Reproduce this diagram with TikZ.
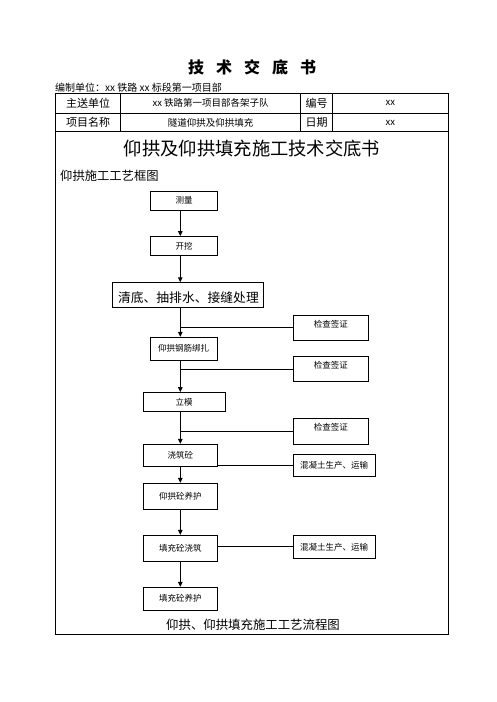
\documentclass[tikz,border=0pt]{standalone}
\usepackage{fontspec}
\setmainfont{Noto Sans CJK SC}
\usepackage{tikz}
\usetikzlibrary{arrows.meta}
\newcommand{\fs}[1]{\fontsize{#1}{#1}\selectfont}
\tikzset{
  tbl/.style ={line width=0.9pt},
  cell/.style={inner sep=0pt,font=\fs{11}},
  val/.style ={inner sep=0pt,font=\fs{9.5}},
  box/.style ={draw,line width=0.9pt,inner sep=0pt,font=\fs{8.5}},
  chk/.style ={box,minimum width=75pt,minimum height=25pt,text height=6.5pt,text depth=7.5pt},
  hnt/.style ={box,minimum width=81.7pt,minimum height=22.5pt},
  ar/.style  ={-{Triangle[length=5pt,width=4.5pt]},line width=1.1pt},
  link/.style={line width=0.8pt},
}

\begin{document}
\begin{tikzpicture}[x=1pt,y=-1pt]
  \useasboundingbox (0,0) rectangle (496,702);
  % header
  \node[font=\fs{16}\bfseries] (ttl) at (252,67){技\hspace{0.75em}术\hspace{0.75em}交\hspace{0.75em}底\hspace{0.75em}书};
  \node[anchor=west,inner sep=0pt,font=\fs{10}] (unit) at (55,88){编制单位：xx 铁路 xx 标段第一项目部};
  % table
  \draw[tbl] (55,93.3) rectangle (448,634);
  \draw[tbl] (55,113.3) -- (448,113.3);
  \draw[tbl] (55,131.7) -- (448,131.7);
  \foreach \x in {120.7,300.7,332.7}
    \draw[tbl] (\x,93.3) -- (\x,131.7);
  \node[cell] (zs) at (88,103.3){主送单位};
  \node[val]  (zsv) at (210.7,103.3){xx 铁路第一项目部各架子队};
  \node[cell] (bh) at (316.7,103.3){编号};
  \node[val]  (bhv) at (390.3,103.3){xx};
  \node[cell] (xm) at (88,122.5){项目名称};
  \node[val]  (xmv) at (210.7,122.5){隧道仰拱及仰拱填充};
  \node[cell] (rq) at (316.7,122.5){日期};
  \node[val]  (rqv) at (390.3,122.5){xx};
  \node[inner sep=0pt,font=\fs{18.3}] (head) at (252,148.3){仰拱及仰拱填充施工技术交底书};
  \node[anchor=west,inner sep=0pt,font=\fs{12.3}] (sub) at (60,175.7){仰拱施工工艺框图};
  % flow boxes
  \node[box,minimum width=66.6pt,minimum height=18.3pt] (celiang) at (184,200.8){测量};
  \node[box,minimum width=66.6pt,minimum height=18.3pt] (kaiwa) at (184,245.8){开挖};
  \node[box,font=\fs{12.8},text width=140pt,align=left,inner xsep=5.3pt,minimum height=24.6pt,
        text height=15.8pt,text depth=0pt] (qingdi) at (188,295){清底、抽排水、接缝处理};
  \node[box,minimum width=67.3pt,minimum height=22.7pt] (gangjin) at (183.7,348.7){仰拱钢筋绑扎};
  \node[box,minimum width=81.7pt,minimum height=18.3pt] (limo) at (184.2,401.8){立模};
  \node[box,minimum width=74pt,minimum height=22.4pt] (jiaozhu) at (180.3,455.5){浇筑砼};
  \node[box,minimum width=74pt,minimum height=26pt] (yanghu) at (180.3,496.3){仰拱砼养护};
  \node[box,minimum width=74pt,minimum height=25.7pt] (tianchong) at (180.3,548.2){填充砼浇筑};
  \node[box,minimum width=74pt,minimum height=22.7pt] (tcyh) at (180.3,598.7){填充砼养护};
  \node[chk] (jc1) at (330.8,327.5){检查签证};
  \node[chk] (jc2) at (330.8,369.2){检查签证};
  \node[chk,minimum height=25.7pt] (jc3) at (330.8,431.2){检查签证};
  \node[hnt,minimum height=22pt] (hnt1) at (334.2,465){混凝土生产、运输};
  \node[hnt,minimum height=23pt] (hnt2) at (334.2,546.8){混凝土生产、运输};
  \node[inner sep=0pt,font=\fs{12.4}] (cap) at (253,625){仰拱、仰拱填充施工工艺流程图};
  % arrows down the spine
  \coordinate (sp) at (180.3,0);
  \draw[ar] (celiang.south -| sp) -- (kaiwa.north -| sp);
  \draw[ar] (kaiwa.south -| sp) -- (qingdi.north -| sp);
  \draw[ar] (qingdi.south -| sp) -- (gangjin.north -| sp);
  \draw[ar] (gangjin.south -| sp) -- (limo.north -| sp);
  \draw[ar] (limo.south -| sp) -- (jiaozhu.north -| sp);
  \draw[ar] (jiaozhu.south -| sp) -- (yanghu.north -| sp);
  \draw[ar] (yanghu.south -| sp) -- (tianchong.north -| sp);
  \draw[ar] (tianchong.south -| sp) -- (tcyh.north -| sp);
  % side branches
  \draw[link] (jc1.west) -- (jc1.west -| sp);
  \draw[link] (jc2.west) -- (jc2.west -| sp);
  \draw[link] (jc3.west) -- (jc3.west -| sp);
  \draw[link] (hnt1.west) -- (hnt1.west -| jiaozhu.east);
  \draw[link] (hnt2.west) -- (hnt2.west -| tianchong.east);
\end{tikzpicture}
\end{document}
